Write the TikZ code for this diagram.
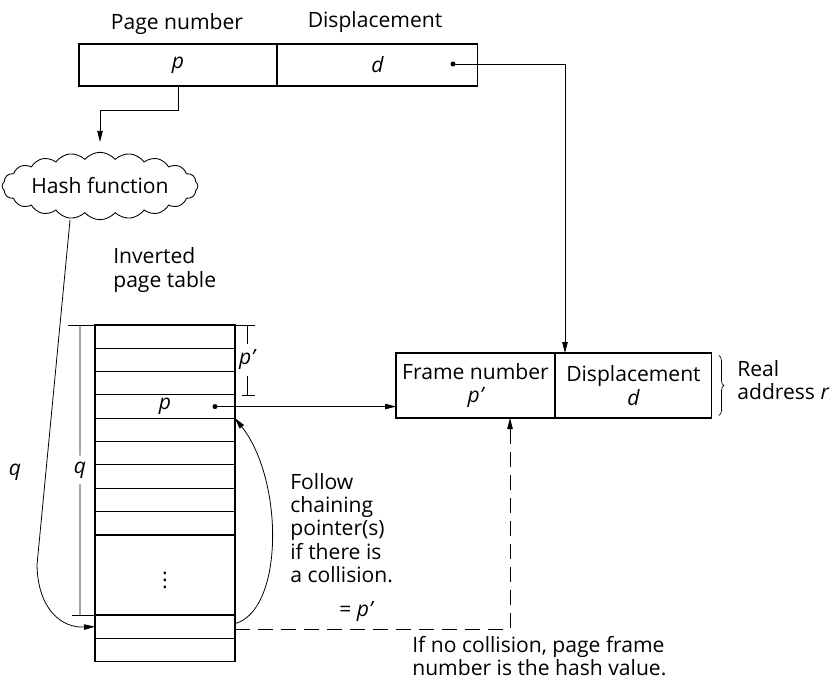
\documentclass[tikz,border=0pt]{standalone}
\usepackage{fontspec}
\setmainfont{Open Sans}
\usetikzlibrary{arrows.meta,shapes.symbols,decorations.pathreplacing,calc}

\begin{document}
\begin{tikzpicture}[x=0.02cm, y=-0.02cm, font=\fontsize{12}{13.2}\selectfont,
  cell/.style={draw, line width=0.6pt, minimum height=0.84cm, inner sep=0pt, outer sep=0pt},
  row/.style={draw, line width=0.6pt, minimum width=2.8cm, minimum height=0.466cm, inner sep=0pt, outer sep=0pt},
  ptr/.style={line width=0.45pt, -{Triangle[length=0.22cm,width=0.11cm]}},
  dimln/.style={line width=0.4pt},
  dotmark/.style={circle, fill, inner sep=0pt, minimum size=0.1cm},
  txt/.style={align=left, anchor=west, inner sep=0pt}]
\useasboundingbox (0,0) rectangle (835,680);
%% Virtual address
\node[cell, minimum width=3.96cm] (pcell) at (178,65) {\itshape p};
\node[cell, minimum width=4.02cm, anchor=west] (dcell) at (pcell.east) {\itshape d};
\node (pglabel) at (177,24) {Page number};
\node (displabel) at (375,22) {Displacement};
\node[dotmark] (ddot) at (453,64) {};
%% Hash function
\node[cloud, draw, line width=0.5pt, cloud puffs=20, cloud puff arc=100, aspect=3.6,
  minimum width=3.6cm, minimum height=1.0cm, inner sep=0pt] (hash) at (100,186) {Hash function};
\draw[ptr] (pcell.south) -- ++(0,-0.48cm) -| ([yshift=0.2cm]hash.north);
%% Real address
\node[cell, minimum width=3.18cm, minimum height=1.3cm, align=center] (fcell) at (475.5,385.5) {Frame number\\\itshape p’};
\node[cell, minimum width=3.14cm, minimum height=1.3cm, align=center, anchor=west] (d2cell) at (fcell.east) {Displacement\\\itshape d};
\draw[ptr] (ddot.center) -| ([xshift=0.2cm]d2cell.north west);
\draw[dimln, decorate, decoration={brace, amplitude=0.1cm}]
  ([xshift=0.14cm, yshift=-0.05cm]d2cell.north east) -- ([xshift=0.14cm, yshift=0.05cm]d2cell.south east);
\node[txt] (real) at (737,380) {Real\\address {\itshape r}};
%% Inverted page table
\node[txt] (iptlabel) at (113,270) {Inverted\\page table};
\foreach \i in {1,...,9}
  \node[row] (r\i) at (165,{325+23.3*(\i-0.5)}) {};
\node[row, minimum height=1.6cm] (rdots) at (165,575) {$\vdots$};
\node[row] (r10) at (165,626.65) {};
\node[row] (r11) at (165,649.95) {};
\node (pentry) at (r4) {\itshape p};
\node[dotmark] (pdot) at ([xshift=-0.4cm]r4.east) {};
\draw[ptr] (pdot.center) -- (pdot.center -| fcell.west);
%% p' and q spans
\draw[dimln] (r1.north east) -- ++(0.4cm,0);
\draw[dimln] ([xshift=0.14cm]r3.south east) -- ++(0.26cm,0);
\node (pptxt) at ([xshift=0.24cm]r2.east) {\itshape p’};
\draw[dimln] ([xshift=0.24cm]r1.north east) -- (pptxt) -- ([xshift=0.24cm]r3.south east);
\draw[dimln] ([xshift=-0.54cm]r1.north west) -- (r1.north west);
\draw[dimln] ([xshift=-0.46cm]r10.north west) -- (r10.north west);
\path ($(r1.north west)!0.5!(r10.north west)$) ++(-0.3cm,0) node (qtxt) {\itshape q};
\draw[dimln] ([xshift=-0.3cm]r1.north west) -- (qtxt) -- ([xshift=-0.3cm]r10.north west);
\node (lq) at (15,472) {\itshape q};
%% Hash value and chaining
\draw[ptr] ([xshift=-0.6cm]hash.south) -- (37,565) .. controls (38,610) and (62,628) .. (r10.west);
\draw[ptr] ([yshift=0.06cm]r10.east) .. controls (284,610) and (284,480) .. (r4.south east);
\draw[ptr, dash pattern=on 0.3cm off 0.16cm] ([yshift=-0.05cm]r10.east) -| ([xshift=0.69cm]fcell.south)
  node[pos=0.22, above=1pt] (eqp) {= {\itshape p’}};
\node[txt] (follow) at (290,528) {Follow\\chaining\\pointer(s)\\if there is\\a collision.};
\node[txt] (nocoll) at (412,656) {If no collision, page frame\\number is the hash value.};
\end{tikzpicture}
\end{document}
